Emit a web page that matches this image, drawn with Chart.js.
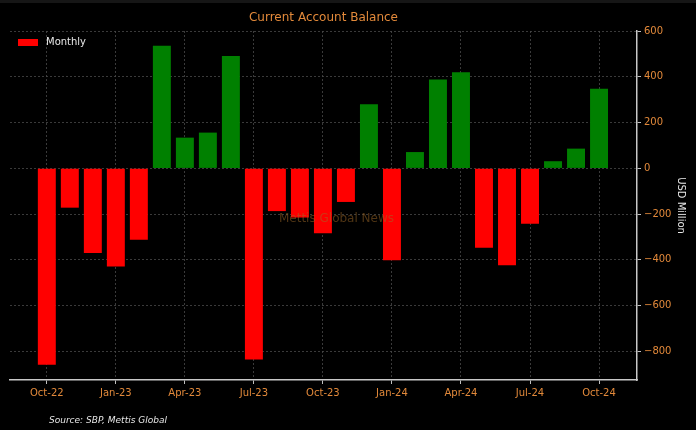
<!DOCTYPE html>
<html>
<head>
<meta charset="utf-8">
<title>Current Account Balance</title>
<script src="https://cdn.jsdelivr.net/npm/chart.js@4.4.1/dist/chart.umd.min.js"></script>
<style>
    html, body { margin: 0; padding: 0; background: #000; }
    #wrap { width: 696px; height: 430px; }
</style>
</head>
<body>
<div id="wrap"><canvas id="caChart" width="696" height="430"></canvas></div>
<script>
// --- Data (USD million) ---
const months = ['Oct-22', 'Nov-22', 'Dec-22', 'Jan-23', 'Feb-23', 'Mar-23', 'Apr-23', 'May-23', 'Jun-23',
    'Jul-23', 'Aug-23', 'Sep-23', 'Oct-23', 'Nov-23', 'Dec-23', 'Jan-24', 'Feb-24', 'Mar-24', 'Apr-24',
    'May-24', 'Jun-24', 'Jul-24', 'Aug-24', 'Sep-24', 'Oct-24'];
const balance = [-858, -172, -370, -429, -312, 536, 134, 156, 491,
    -835, -187, -215, -284, -147, 280, -402, 71, 388, 420,
    -347, -424, -242, 31, 86, 348];
const xTickLabels = ['Oct-22', 'Jan-23', 'Apr-23', 'Jul-23', 'Oct-23', 'Jan-24', 'Apr-24', 'Jul-24', 'Oct-24'];
const yTickValues = [-800, -600, -400, -200, 0, 200, 400, 600];

const ORANGE = '#e2893a';
const FONT = 'DejaVu Sans';
const GRID = '#4a4a4a';

document.addEventListener('DOMContentLoaded', () => {
    const ctx = document.getElementById('caChart');

    // Title, legend, watermark, axis name and source line
    const decorations = {
        id: 'decorations',
        beforeDraw(chart) {
            const c = chart.ctx;
            c.save();
            c.fillStyle = '#000';
            c.fillRect(0, 0, chart.width, chart.height);
            c.fillStyle = '#161616';
            c.fillRect(0, 0, chart.width, 3);
            c.restore();
        },
        afterDatasetsDraw(chart) {
            const c = chart.ctx;
            const a = chart.chartArea;
            c.save();
            c.font = `12px "${FONT}"`;
            c.fillStyle = 'rgba(160, 105, 40, 0.5)';
            c.textAlign = 'center';
            c.textBaseline = 'middle';
            c.fillText('Mettis Global News', (a.left + a.right) / 2 + 13, (a.top + a.bottom) / 2 + 13);
            c.restore();
        },
        afterDraw(chart) {
            const c = chart.ctx;
            const a = chart.chartArea;
            c.save();
            // title
            c.font = `12px "${FONT}"`;
            c.fillStyle = ORANGE;
            c.textAlign = 'center';
            c.textBaseline = 'middle';
            c.fillText('Current Account Balance', (a.left + a.right) / 2, 18);

            // legend
            const ds = chart.data.datasets[0];
            c.fillStyle = '#ff0000';
            c.fillRect(a.left + 8, a.top + 8, 20, 7);
            c.font = `10px "${FONT}"`;
            c.fillStyle = '#e8e8e8';
            c.textAlign = 'left';
            c.fillText(ds.label, a.left + 36, a.top + 11.5);

            // y axis name
            c.save();
            c.translate(681, (a.top + a.bottom) / 2);
            c.rotate(Math.PI / 2);
            c.textAlign = 'center';
            c.fillStyle = '#e8e8e8';
            c.fillText('USD Million', 0, 0);
            c.restore();

            // source
            c.font = `italic 9px "${FONT}"`;
            c.fillStyle = '#e6e6e6';
            c.textAlign = 'left';
            c.fillText('Source: SBP, Mettis Global', 49, 421);
            c.restore();
        }
    };

    new Chart(ctx, {
        type: 'bar',
        data: {
            datasets: [{
                label: 'Monthly',
                data: balance.map((v, i) => ({ x: i, y: v })),
                backgroundColor: balance.map(v => v < 0 ? '#ff0000' : '#008000'),
                borderWidth: 0,
                barPercentage: 0.78,
                categoryPercentage: 1
            }]
        },
        options: {
            responsive: false,
            animation: false,
            layout: { padding: { left: 10, top: 31, right: 0, bottom: 0 } },
            plugins: {
                legend: { display: false },
                title: { display: false },
                tooltip: { enabled: true }
            },
            scales: {
                x: {
                    type: 'linear',
                    offset: false,
                    min: -1.6,
                    max: 25.65,
                    afterBuildTicks: s => { s.ticks = xTickLabels.map(l => ({ value: months.indexOf(l) })); },
                    afterFit: s => { s.height = 50; },
                    ticks: {
                        callback: v => months[v],
                        color: ORANGE,
                        font: { family: FONT, size: 10 },
                        padding: 3,
                        maxRotation: 0,
                        autoSkip: false
                    },
                    grid: {
                        offset: false,
                        color: GRID,
                        lineWidth: 0.8,
                        drawTicks: true,
                        tickLength: 4,
                        tickColor: '#c0c0c0',
                        tickWidth: 1
                    },
                    border: { display: true, color: '#c8c8c8', width: 1.5, dash: [2, 2] }
                },
                y: {
                    position: 'right',
                    min: -925,
                    max: 600,
                    afterBuildTicks: s => { s.ticks = yTickValues.map(v => ({ value: v })); },
                    afterFit: s => { s.width = 59; },
                    ticks: {
                        callback: v => v < 0 ? '\u2212' + Math.abs(v) : String(v),
                        color: ORANGE,
                        font: { family: FONT, size: 10 },
                        padding: 3
                    },
                    grid: {
                        color: GRID,
                        lineWidth: 0.8,
                        drawTicks: true,
                        tickLength: 4,
                        tickColor: '#c0c0c0',
                        tickWidth: 1
                    },
                    border: { display: true, color: '#c8c8c8', width: 1.5, dash: [2, 2] }
                }
            }
        },
        plugins: [decorations]
    });
});
</script>
</body>
</html>
